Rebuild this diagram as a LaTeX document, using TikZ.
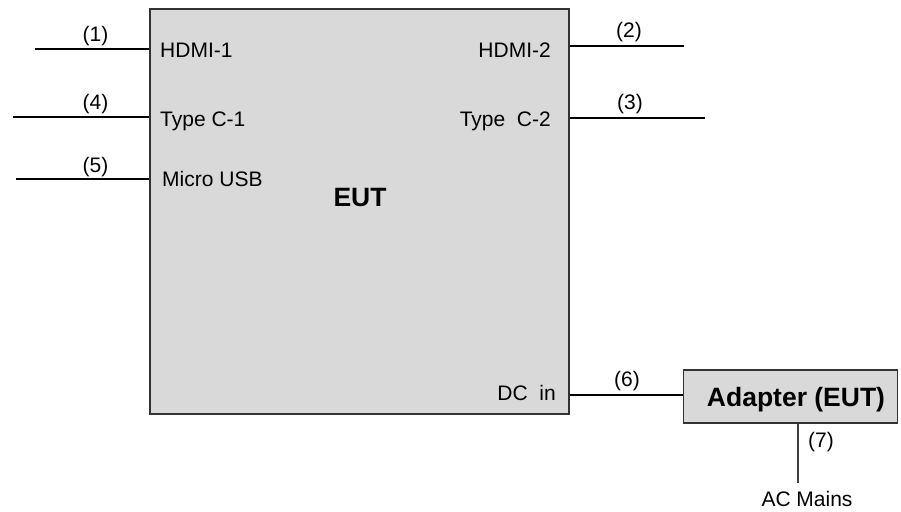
\documentclass[tikz,border=0pt]{standalone}
\usepackage{fontspec}
\setmainfont{Liberation Sans}
\begin{document}
\begin{tikzpicture}[x=1pt,y=-1pt,
  box/.style={draw=black!80,line width=1.3pt,fill=black!15,inner sep=0pt},
  cable/.style={draw=black,line width=1.8pt},
  thin/.style={draw=black!75,line width=1.4pt},
  txt/.style={font=\fontsize{21}{24}\selectfont,inner sep=0pt},
  big/.style={font=\fontsize{26.5}{30}\selectfont\bfseries,inner sep=0pt}]
\useasboundingbox (0,0) rectangle (901,511);
% EUT box
\node[box,minimum width=419pt,minimum height=405pt] (eut) at (359.5,211.5) {};
\node[box,minimum width=214pt,minimum height=53pt] (adp) at (790.5,396.5) {};
% inner texts
\node[txt,anchor=base west] (h1) at (160,58) {HDMI-1};
\node[txt,anchor=base west] (c1) at (160,126.5) {Type C-1};
\node[txt,anchor=base west] (mu) at (162,186.5) {Micro USB};
\node[txt,anchor=base east] (h2) at (551,58) {HDMI-2};
\node[txt,anchor=base east] (c2) at (551,126) {Type\ \ C-2};
\node[txt,anchor=base east] (dc) at (556,400) {DC\ \ in};
\node[big,anchor=base] (eutl) at (360,206) {EUT};
\node[big,anchor=base] (adl) at (796,406.5) {Adapter (EUT)};
% free ends
\coordinate (e1) at (35,49);
\coordinate (e4) at (13,117);
\coordinate (e5) at (16,179);
\coordinate (e2) at (684,46);
\coordinate (e3) at (705,118);
\coordinate (e7) at (798,483);
% connectors
\draw[cable] (e1) -- (e1 -| eut.west);
\draw[cable] (e4) -- (e4 -| eut.west);
\draw[cable] (e5) -- (e5 -| eut.west);
\draw[cable] (e2 -| eut.east) -- (e2);
\draw[cable] (e3 -| eut.east) -- (e3);
\coordinate (e6) at (683,395);
\draw[cable] (e6 -| eut.east) -- (e6 -| adp.west);
\draw[thin] (e7 |- adp.south) -- (e7);
% labels
\node[txt] (l1) at (95.5,36.5) {(1)};
\node[txt] (l4) at (95.5,104) {(4)};
\node[txt] (l5) at (95.5,167) {(5)};
\node[txt] (l2) at (629,32.5) {(2)};
\node[txt] (l3) at (630,104) {(3)};
\node[txt] (l6) at (627,381) {(6)};
\node[txt] (l7) at (821,442.5) {(7)};
\node[txt,anchor=base] (ac) at (807,506.5) {AC Mains};
\end{tikzpicture}
\end{document}
